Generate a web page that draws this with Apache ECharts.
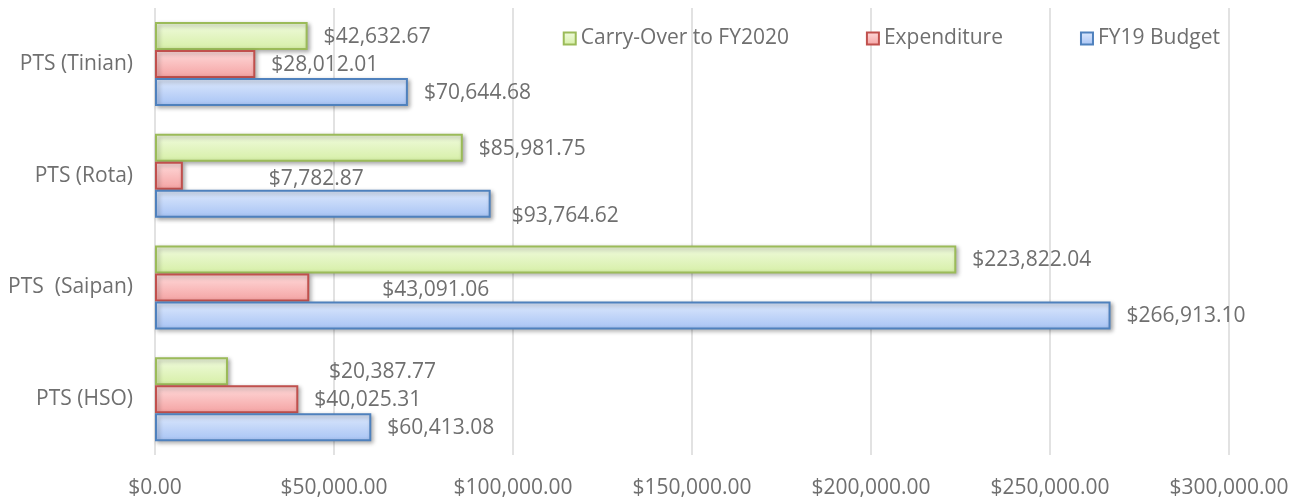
<!DOCTYPE html>
<html>
<head>
<meta charset="utf-8">
<script src="https://cdn.jsdelivr.net/npm/echarts@6/dist/echarts.min.js"></script>
<style>
  html, body { margin: 0; padding: 0; background: #fff; }
  #chart { width: 1305px; height: 502px; }
</style>
</head>
<body>
<div id="chart"></div>
<script>
  // data (bottom category first)
  var categories = ['PTS (HSO)', 'PTS  (Saipan)', 'PTS (Rota)', 'PTS (Tinian)'];
  var budget = [60413.08, 266913.10, 93764.62, 70644.68];
  var expenditure = [40025.31, 43091.06, 7782.87, 28012.01];
  var carryOver = [20387.77, 223822.04, 85981.75, 42632.67];
  var seriesNames = ['Carry-Over to FY2020', 'Expenditure', 'FY19 Budget'];

  var font = "'Open Sans', 'Liberation Sans', sans-serif";
  var grey = '#6f6f6f';

  // labels that were dragged away from the bar end in the original
  var labelShift = {
    'FY19 Budget': { 2: [5, 11] },
    'Expenditure': { 1: [57, 2], 2: [70, 2] },
    'Carry-Over to FY2020': { 0: [85, 0] }
  };

  function money(v) {
    return '$' + v.toLocaleString('en-US', { minimumFractionDigits: 2, maximumFractionDigits: 2 });
  }

  function grad(top, bottom) {
    return new echarts.graphic.LinearGradient(0, 0, 0, 1, [
      { offset: 0, color: top },
      { offset: 1, color: bottom }
    ]);
  }

  function makeSeries(name, values, top, bottom, border) {
    var shift = labelShift[name] || {};
    return {
      name: name,
      type: 'bar',
      barWidth: 28,
      barGap: '0%',
      data: values.map(function (v, i) {
        var item = { value: v };
        if (shift[i]) item.label = { offset: [shift[i][0], shift[i][1] + 1] };
        return item;
      }),
      itemStyle: {
        color: grad(top, bottom),
        borderColor: border,
        borderWidth: 2,
        shadowColor: 'rgba(0,0,0,0.3)',
        shadowBlur: 4,
        shadowOffsetX: 2,
        shadowOffsetY: 2
      },
      label: {
        show: true,
        position: 'right',
        distance: 16,
        offset: [0, 1],
        formatter: function (p) { return money(p.value); },
        color: grey,
        fontFamily: font,
        fontSize: 21
      }
    };
  }

  var chart = echarts.init(document.getElementById('chart'));

  var option = {
    backgroundColor: '#fff',
    animation: false,
    grid: { left: 155, right: 76, top: 8, bottom: 47 },
    legend: {
      data: ['Carry-Over to FY2020', 'Expenditure', 'FY19 Budget'],
      icon: 'rect',
      right: 80,
      top: 23,
      itemWidth: 12,
      itemHeight: 12,
      itemGap: 77,
      itemStyle: { shadowBlur: 0, shadowOffsetX: 0, shadowOffsetY: 0 },
      textStyle: { color: grey, fontFamily: font, fontSize: 21 }
    },
    xAxis: {
      type: 'value',
      min: 0,
      max: 300000,
      interval: 50000,
      axisLine: { show: false },
      axisTick: { show: false },
      splitLine: { show: true, lineStyle: { color: '#d9d9d9', width: 1.5 } },
      axisLabel: {
        formatter: money,
        color: grey,
        fontFamily: font,
        fontSize: 21,
        margin: 23
      }
    },
    yAxis: {
      type: 'category',
      data: categories,
      axisLine: { show: false },
      axisTick: { show: false },
      axisLabel: { color: grey, fontFamily: font, fontSize: 21, margin: 22 }
    },
    // first series sits at the top of each category band
    series: [
      makeSeries(seriesNames[0], carryOver, '#f1fbe0', '#d6efa6', '#9bbb59'),
      makeSeries(seriesNames[1], expenditure, '#ffdcdc', '#f4a2a2', '#c0504d'),
      makeSeries(seriesNames[2], budget, '#dfeafd', '#a7c3f4', '#4f81bd')
    ]
  };

  chart.setOption(option);
</script>
</body>
</html>
